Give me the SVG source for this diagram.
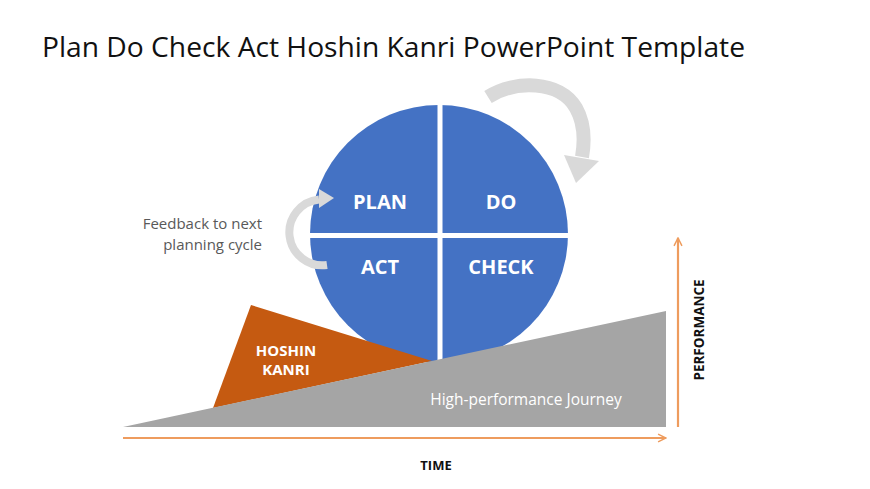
<svg xmlns="http://www.w3.org/2000/svg" width="870" height="489" viewBox="0 0 870 489">
<defs>
<style>
.t{font-family:"Open Sans","Noto Sans","Liberation Sans",sans-serif}
.q{font-weight:bold;font-size:20px;fill:#fff;text-anchor:middle}
.ax{fill:none;stroke:#EE9C5E;stroke-width:2.2}
.cyc{fill:none;stroke:#D9D9D9}
</style>
<marker id="chev" viewBox="0 0 10 10" refX="9" refY="5" markerWidth="4.5" markerHeight="4.5" orient="auto" markerUnits="strokeWidth">
<path d="M1 1 L9 5 L1 9" fill="none" stroke="#EE9C5E" stroke-width="1.5"/>
</marker>
</defs>
<rect width="870" height="489" fill="#fff"/>
<text class="t" x="42" y="57" font-size="28" fill="#111" textLength="703" lengthAdjust="spacingAndGlyphs">Plan Do Check Act Hoshin Kanri PowerPoint Template</text>

<g id="pdca-circle">
<circle cx="439" cy="234" r="129" fill="#4472C4"/>
<line x1="440" y1="100" x2="440" y2="370" stroke="#fff" stroke-width="5"/>
<line x1="305" y1="235.5" x2="575" y2="235.5" stroke="#fff" stroke-width="5"/>
<text class="t q" x="380" y="209">PLAN</text>
<text class="t q" x="501" y="209">DO</text>
<text class="t q" x="380" y="274">ACT</text>
<text class="t q" x="501" y="274">CHECK</text>
</g>

<g id="hoshin-kanri">
<polygon points="251,305 213,408 432,361" fill="#C55A11"/>
<text class="t" x="286" y="356" font-size="15" font-weight="bold" fill="#fff" text-anchor="middle">HOSHIN</text>
<text class="t" x="286" y="375" font-size="15" font-weight="bold" fill="#fff" text-anchor="middle">KANRI</text>
</g>

<g id="journey">
<polygon points="123,427 666,311 666,427" fill="#A5A5A5"/>
<text class="t" x="526" y="405" font-size="15.5" fill="#fff" text-anchor="middle">High-performance Journey</text>
</g>

<g id="feedback">
<text class="t" x="262" y="229" font-size="15" fill="#595959" text-anchor="end">Feedback to next</text>
<text class="t" x="262" y="249.5" font-size="15" fill="#595959" text-anchor="end">planning cycle</text>
</g>

<g id="connectors">
<path class="cyc" stroke-width="14" d="M 488 97 C 515 80, 560 80, 576 108 C 585 124, 585 140, 582 157"/>
<polygon points="564,155 599,161 576,183" fill="#D9D9D9"/>
<path class="cyc" stroke-width="8" d="M 319 199.5 A 33 33 0 1 0 327 265"/>
<polygon points="319,189 334,198 319,208" fill="#D9D9D9"/>
<line class="ax" x1="123" y1="438" x2="666" y2="438" marker-end="url(#chev)"/>
<line class="ax" x1="678" y1="427" x2="678" y2="238" marker-end="url(#chev)"/>
</g>

<g id="axis-labels">
<text class="t" x="436" y="470" font-size="13" font-weight="bold" fill="#111" text-anchor="middle">TIME</text>
<text class="t" x="0" y="0" font-size="13.5" font-weight="bold" fill="#111" text-anchor="middle" transform="translate(704,330) rotate(-90)">PERFORMANCE</text>
</g>
</svg>
